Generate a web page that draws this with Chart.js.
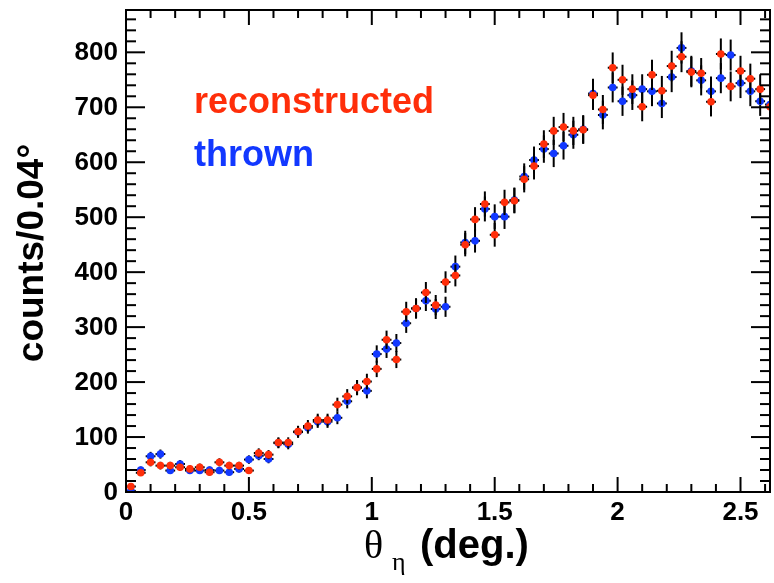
<!DOCTYPE html>
<html>
<head>
<meta charset="utf-8">
<script src="https://cdn.jsdelivr.net/npm/chart.js@4.4.1/dist/chart.umd.min.js"></script>
<style>
  html, body { margin: 0; padding: 0; background: #fff; }
  canvas { display: block; }
</style>
</head>
<body>
<canvas id="myChart" width="774" height="583"></canvas>
<script>
// bin centres (deg.), bins are 0.04 wide
const binCenters = [
  0.02, 0.06, 0.10, 0.14, 0.18, 0.22, 0.26, 0.30, 0.34, 0.38,
  0.42, 0.46, 0.50, 0.54, 0.58, 0.62, 0.66, 0.70, 0.74, 0.78,
  0.82, 0.86, 0.90, 0.94, 0.98, 1.02, 1.06, 1.10, 1.14, 1.18,
  1.22, 1.26, 1.30, 1.34, 1.38, 1.42, 1.46, 1.50, 1.54, 1.58,
  1.62, 1.66, 1.70, 1.74, 1.78, 1.82, 1.86, 1.90, 1.94, 1.98,
  2.02, 2.06, 2.10, 2.14, 2.18, 2.22, 2.26, 2.30, 2.34, 2.38,
  2.42, 2.46, 2.50, 2.54, 2.58, 2.62
];
const reconstructed = [
  10, 35, 54, 48, 48, 45, 42, 45, 36, 54,
  48, 48, 39, 71, 68, 90, 90, 110, 120, 131,
  131, 159, 174, 190, 201, 224, 277, 241, 328, 334,
  363, 340, 382, 394, 450, 496, 524, 468, 527, 530,
  569, 593, 633, 657, 664, 657, 659, 722, 696, 772,
  750, 733, 701, 759, 730, 775, 792, 764, 762, 710,
  797, 738, 766, 752, 733, 701
];
const thrown = [
  2, 40, 65, 69, 39, 51, 39, 39, 40, 39,
  36, 42, 59, 66, 60, 89, 87, 109, 117, 128,
  128, 135, 165, 190, 184, 251, 260, 271, 307, 334,
  348, 333, 337, 410, 454, 457, 515, 501, 501, 531,
  574, 604, 624, 616, 630, 650, 660, 725, 686, 736,
  711, 722, 733, 729, 707, 755, 808, 766, 749, 729,
  753, 795, 744, 729, 711, 705
];
const xTickLabels = ['0', '0.5', '1', '1.5', '2', '2.5'];
const yTickLabels = ['0', '100', '200', '300', '400', '500', '600', '700', '800'];
const binHalfWidth = 0.02;

const RED = '#ff2e0a';
const BLUE = '#1238ff';
const FONT = "'Liberation Sans', Arial, sans-serif";

function points(values) {
  return values.map((v, i) => ({ x: binCenters[i], y: v }));
}

function line(c, x1, y1, x2, y2) {
  c.beginPath();
  c.moveTo(x1, y1);
  c.lineTo(x2, y2);
  c.stroke();
}

// ROOT style frame, ticks, labels and error bars
const rootStyle = {
  id: 'rootStyle',
  beforeDatasetDraw(chart, args) {
    const ds = chart.data.datasets[args.index];
    const xs = chart.scales.x, ys = chart.scales.y;
    const a = chart.chartArea;
    const c = chart.ctx;
    c.save();
    c.beginPath();
    c.rect(a.left, a.top, a.right - a.left, a.bottom - a.top);
    c.clip();
    c.strokeStyle = '#000';
    c.lineWidth = 2;
    ds.data.forEach(p => {
      const err = Math.sqrt(p.y);
      const px = xs.getPixelForValue(p.x);
      const py = ys.getPixelForValue(p.y);
      line(c, xs.getPixelForValue(p.x - binHalfWidth), py, xs.getPixelForValue(p.x + binHalfWidth), py);
      line(c, px, ys.getPixelForValue(p.y - err), px, ys.getPixelForValue(p.y + err));
    });
    c.restore();
  },
  afterDraw(chart) {
    const xs = chart.scales.x, ys = chart.scales.y;
    const a = chart.chartArea;
    const c = chart.ctx;
    c.save();
    c.strokeStyle = '#000';
    c.lineWidth = 2;
    c.strokeRect(a.left, a.top, a.right - a.left, a.bottom - a.top);

    // y ticks every 20, labelled every 100
    for (let i = 0; i * 20 <= ys.max; i++) {
      const y = ys.getPixelForValue(i * 20);
      const len = i % 5 === 0 ? 19 : 10;
      line(c, a.left, y, a.left + len, y);
      line(c, a.right, y, a.right - len, y);
    }
    // x ticks every 0.1, labelled every 0.5
    for (let i = 0; i * 0.1 <= xs.max + 1e-9; i++) {
      const x = xs.getPixelForValue(i * 0.1);
      const len = i % 5 === 0 ? 15 : 8;
      line(c, x, a.bottom, x, a.bottom - len);
      line(c, x, a.top, x, a.top + len);
    }

    c.fillStyle = '#000';
    c.font = 'bold 26px ' + FONT;
    c.textAlign = 'right';
    c.textBaseline = 'middle';
    yTickLabels.forEach(t => {
      c.fillText(t, a.left - 8, ys.getPixelForValue(Number(t)) + 1);
    });
    c.textAlign = 'center';
    c.textBaseline = 'alphabetic';
    xTickLabels.forEach(t => {
      c.fillText(t, xs.getPixelForValue(Number(t)), a.bottom + 28);
    });

    // axis titles
    c.save();
    c.translate(43, 253);
    c.rotate(-Math.PI / 2);
    c.font = 'bold 37px ' + FONT;
    c.textAlign = 'center';
    c.fillText('counts/0.04°', 0, 0);
    c.restore();

    c.textAlign = 'left';
    c.font = "40px 'Liberation Serif', serif";
    c.fillText('θ', 364, 558);
    c.font = "26px 'Liberation Serif', serif";
    c.fillText('η', 392, 570);
    c.font = 'bold 40px ' + FONT;
    c.fillText('(deg.)', 420, 558);

    // legend text
    c.font = 'bold 36px ' + FONT;
    c.fillStyle = RED;
    c.fillText('reconstructed', 194, 113);
    c.fillStyle = BLUE;
    c.fillText('thrown', 194, 166);
    c.restore();
  }
};

new Chart(document.getElementById('myChart'), {
  type: 'scatter',
  data: {
    datasets: [
      {
        label: 'reconstructed',
        data: points(reconstructed),
        pointRadius: 3.8,
        pointBorderWidth: 0,
        pointBackgroundColor: RED
      },
      {
        label: 'thrown',
        data: points(thrown),
        pointRadius: 3.8,
        pointBorderWidth: 0,
        pointBackgroundColor: BLUE
      }
    ]
  },
  options: {
    responsive: false,
    animation: false,
    devicePixelRatio: 1,
    layout: { padding: { left: 126, right: 1, top: 10, bottom: 91 } },
    plugins: { legend: { display: false }, tooltip: { enabled: false } },
    scales: {
      x: { type: 'linear', min: 0, max: 2.62, display: false },
      y: { type: 'linear', min: 0, max: 877, display: false }
    }
  },
  plugins: [rootStyle]
});
</script>
</body>
</html>
